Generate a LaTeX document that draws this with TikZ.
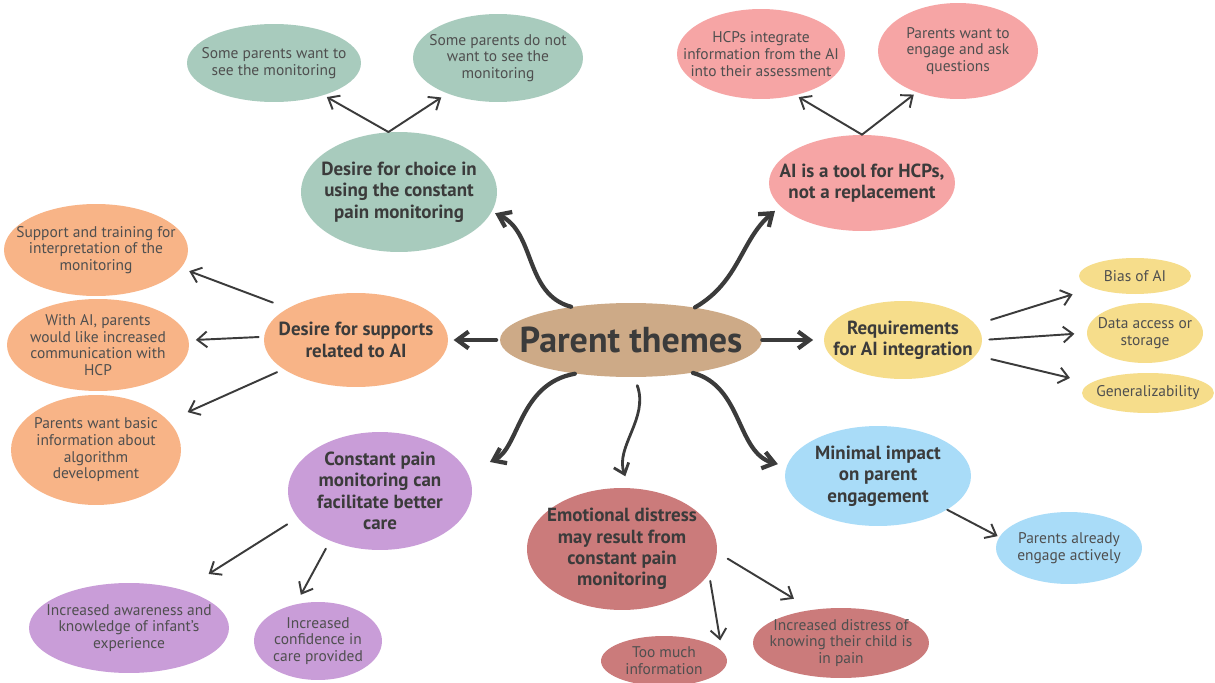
\documentclass[tikz,border=0pt]{standalone}
\usepackage{fontspec}
\setmainfont{PT Sans}
\usepackage{tikz}
\usetikzlibrary{positioning, shapes, arrows.meta}
\definecolor{ink}{HTML}{3B3B3B}
\definecolor{hubcol}{HTML}{CDAA87}
\definecolor{sagecol}{HTML}{A8CBBD}
\definecolor{pinkcol}{HTML}{F6A5A5}
\definecolor{orangecol}{HTML}{F8B487}
\definecolor{yellowcol}{HTML}{F6DD8B}
\definecolor{purplecol}{HTML}{C99DD8}
\definecolor{bluecol}{HTML}{A9DCF8}
\definecolor{rosecol}{HTML}{CB7B7B}
\tikzset{
  blob/.style={ellipse, inner xsep=-12pt, inner ysep=0pt, align=center},
  hub/.style={blob, fill=hubcol, text=ink, font=\bfseries\fontsize{20.5}{23}\selectfont},
  topic/.style={blob, text=ink, font=\bfseries\fontsize{10.8}{12.2}\selectfont},
  leaf/.style={blob, text=ink!90, font=\fontsize{8.8}{9.5}\selectfont},
  arr/.style={draw=ink, line width=1.1pt, line cap=round, -{Straight Barb[length=5.5pt,width=9pt]}},
  midarr/.style={arr, line width=1.6pt},
  bigarr/.style={draw=ink, line width=2.4pt, line cap=round, -{Straight Barb[length=6.5pt,width=9.5pt]}}}

\begin{document}
\begin{tikzpicture}[x=0.02cm, y=-0.02cm]
\useasboundingbox (0,0) rectangle (1215,683);
\fill[white] (0,0) rectangle (1215,683);

% centre and main themes
\node[hub, minimum width=5.24cm, minimum height=1.48cm] (theme) at (631,340) {Parent themes};
\node[topic, fill=sagecol, minimum width=3.92cm, minimum height=2.4cm] (choice) at (399,192) {Desire for choice in\\using the constant\\pain monitoring};
\node[topic, fill=pinkcol, minimum width=3.72cm, minimum height=1.92cm] (tool) at (862,183) {AI is a tool for HCPs,\\not a replacement};
\node[topic, fill=orangecol, minimum width=3.68cm, minimum height=1.88cm] (supports) at (356,340) {Desire for supports\\related to AI};
\node[topic, fill=yellowcol, minimum width=3.16cm, minimum height=1.56cm] (require) at (903,340) {Requirements\\for AI integration};
\node[topic, fill=purplecol, minimum width=3.68cm, minimum height=2.36cm] (care) at (380,491) {Constant pain\\monitoring can\\facilitate better\\care};
\node[topic, fill=rosecol, minimum width=3.8cm, minimum height=2.44cm] (distress) at (622,549) {Emotional distress\\may result from\\constant pain\\monitoring};
\node[topic, fill=bluecol, minimum width=3.72cm, minimum height=2cm] (minimal) at (878,476) {Minimal impact\\on parent\\engagement};

% sub themes
\node[leaf, fill=sagecol, minimum width=3.48cm, minimum height=1.56cm] (seeyes) at (274,63) {Some parents want to\\see the monitoring};
\node[leaf, fill=sagecol, minimum width=3.4cm, minimum height=1.76cm] (seeno) at (498,58) {Some parents do not\\want to see the\\monitoring};
\node[leaf, fill=pinkcol, minimum width=3.36cm, minimum height=1.8cm] (hcpint) at (761,54) {HCPs integrate\\information from the AI\\into their assessment};
\node[leaf, fill=pinkcol, minimum width=3.2cm, minimum height=1.92cm] (engage) at (958,51) {Parents want to\\engage and ask\\questions};
\node[leaf, fill=orangecol, minimum width=3.68cm, minimum height=1.84cm] (training) at (96,250) {Support and training for\\interpretation of the\\monitoring};
\node[leaf, fill=orangecol, minimum width=3.64cm, minimum height=1.84cm] (commun) at (98,345) {With AI, parents\\would like increased\\communication with\\HCP};
\node[leaf, fill=orangecol, minimum width=3.4cm, minimum height=2.2cm] (basic) at (96,450) {Parents want basic\\information about\\algorithm\\development};
\node[leaf, fill=yellowcol, minimum width=2.24cm, minimum height=0.72cm] (bias) at (1135,276) {Bias of AI};
\node[leaf, fill=yellowcol, minimum width=2.32cm, minimum height=1.2cm] (data) at (1145,333) {Data access or\\storage};
\node[leaf, fill=yellowcol, minimum width=2.64cm, minimum height=0.8cm] (general) at (1148,393) {Generalizability};
\node[leaf, fill=purplecol, minimum width=4cm, minimum height=1.8cm] (aware) at (129,628) {Increased awareness and\\knowledge of infant’s\\experience};
\node[leaf, fill=purplecol, minimum width=2.56cm, minimum height=1.56cm] (confid) at (318,641) {Increased\\confidence in\\care provided};
\node[leaf, fill=rosecol, minimum width=2.52cm, minimum height=1cm] (toomuch) at (664,661) {Too much\\information};
\node[leaf, fill=rosecol, minimum width=3.52cm, minimum height=1.4cm] (childpain) at (841,643) {Increased distress of\\knowing their child is\\in pain};
\node[leaf, fill=bluecol, minimum width=2.92cm, minimum height=1.44cm] (already) at (1069,548) {Parents already\\engage actively};

% from the centre
\draw[bigarr, shorten >=2pt] (theme.151) to[out=165, in=-25] (choice.-12);
\draw[bigarr, shorten >=4pt] (theme.27) to[out=30, in=-140] (tool.196);
\draw[bigarr, shorten <=2pt, shorten >=3pt] (theme) -- (supports);
\draw[bigarr, shorten >=6pt] (theme) -- (require);
\draw[bigarr, shorten >=14pt] (theme.211) to[out=190, in=25] (care.12);
\draw[midarr, shorten <=5pt, shorten >=7pt] (theme.-85) to[out=-70, in=110] (distress.83);
\draw[bigarr, shorten >=5pt] (theme.-28) to[out=-15, in=165] (minimal.174);

% to the sub themes
\draw[arr, shorten >=2pt] (choice.100) -- (seeyes.-33);
\draw[arr, shorten >=4pt] (choice.100) -- (seeno.-145);
\draw[arr, shorten >=2pt] (tool.north) -- (hcpint.-50);
\draw[arr, shorten >=2pt] (tool.north) -- (engage.-135);
\draw[arr, shorten <=9pt, shorten >=5pt] (supports.155) -- (training.-12);
\draw[arr, shorten <=3pt, shorten >=4pt] (supports.178) -- (commun.3);
\draw[arr, shorten <=4pt, shorten >=12pt] (supports.-158) -- (basic.22);
\draw[arr, shorten <=9pt, shorten >=12pt] (require.12) -- (bias.196);
\draw[arr, shorten <=4pt, shorten >=7pt] (require.east) -- (data.west);
\draw[arr, shorten <=9pt, shorten >=12pt] (require.-12) -- (general.170);
\draw[arr, shorten <=7pt, shorten >=17pt] (care.198) -- (aware.35);
\draw[arr, shorten <=5pt, shorten >=6pt] (care.-135) -- (confid.121);
\draw[arr, shorten <=7pt, shorten >=12pt] (distress.-2) -- (childpain.131);
\draw[arr, shorten <=4pt, shorten >=6pt] (distress.-16) -- (toomuch.10);
\draw[arr, shorten >=1pt] (minimal.-26) -- (already.171);
\end{tikzpicture}
\end{document}
